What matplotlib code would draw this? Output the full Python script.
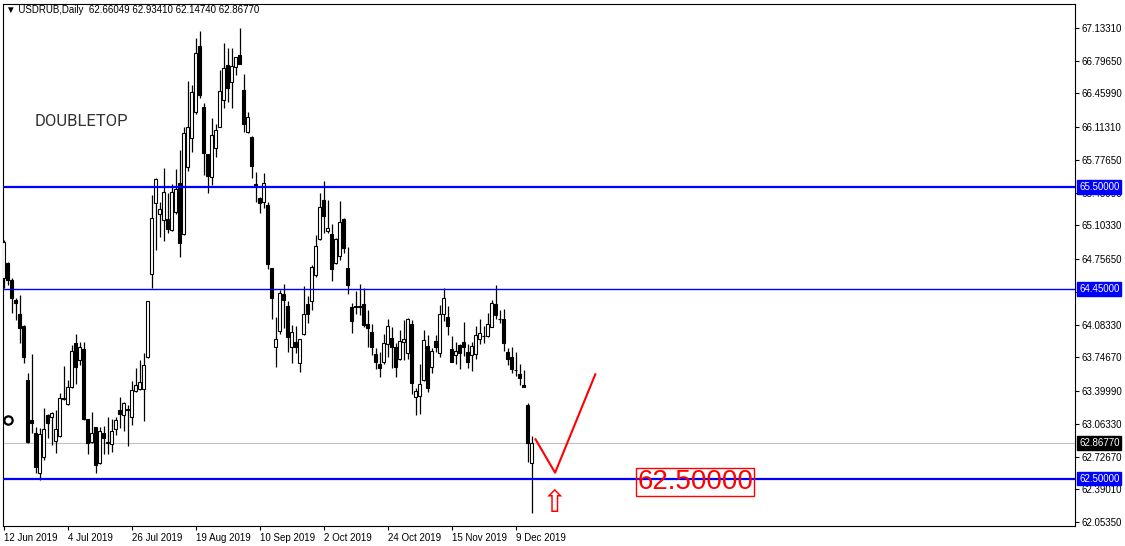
import matplotlib.pyplot as plt
import matplotlib.transforms as mtransforms

plt.rcParams['font.family'] = ['Liberation Sans', 'DejaVu Sans']

# daily OHLC, USDRUB, 12 Jun 2019 .. Dec 2019
opens = [64.56, 64.72, 64.54, 64.34, 64.19, 64.07, 63.51, 63.10, 62.97, 62.56,
         62.72, 63.15, 63.13, 62.89, 62.94, 63.33, 63.27, 63.44, 63.89, 63.72,
         63.83, 63.11, 62.88, 63.03, 62.66, 62.97, 62.88, 62.86, 63.01, 63.20,
         63.15, 63.22, 63.13, 63.40, 63.42, 63.42, 63.75, 64.60, 65.33, 65.22,
         65.16, 65.17, 65.06, 65.24, 65.54, 65.01, 65.70, 66.00, 66.27, 66.95,
         66.32, 65.84, 65.60, 65.90, 66.12, 66.39, 66.75, 66.58, 66.73, 66.86,
         66.50, 66.06, 66.01, 65.53, 65.39, 65.34, 65.31, 64.67, 63.85, 64.02,
         64.40, 64.27, 63.85, 63.90, 63.69, 63.99, 64.30, 64.33, 64.59, 64.96,
         65.36, 65.05, 65.01, 64.72, 64.79, 65.17, 64.67, 64.26, 64.27, 64.27,
         64.30, 64.09, 64.01, 63.78, 63.68, 63.70, 63.88, 63.95, 63.85, 63.73,
         63.90, 63.79, 64.09, 63.34, 63.35, 63.51, 63.86, 63.65, 63.91, 63.79,
         64.19, 64.16, 63.83, 63.77, 63.87, 63.90, 63.80, 63.77, 63.78, 63.94,
         63.97, 63.97, 64.06, 64.30, 64.14, 64.14, 63.80, 63.75, 63.62, 63.57,
         63.465, 63.26, 62.66049]
highs = [64.95, 64.73, 64.56, 64.36, 64.39, 64.08, 63.59, 63.78, 63.03, 63.02,
         63.23, 63.16, 63.18, 63.21, 63.38, 63.66, 63.51, 63.87, 63.99, 63.90,
         63.90, 63.11, 63.18, 63.03, 63.03, 63.04, 63.13, 63.11, 63.13, 63.34,
         63.29, 63.26, 63.50, 63.64, 63.72, 63.79, 64.33, 65.42, 65.59, 65.34,
         65.69, 65.44, 65.53, 65.68, 65.88, 66.11, 66.59, 66.55, 67.03, 67.10,
         66.36, 65.84, 66.21, 66.15, 66.70, 66.98, 66.93, 66.93, 66.83, 67.13,
         66.66, 66.27, 66.02, 65.65, 65.40, 65.64, 65.34, 64.67, 64.16, 64.44,
         64.50, 64.33, 64.08, 64.07, 63.94, 64.48, 64.38, 64.70, 65.00, 65.44,
         65.56, 65.36, 65.12, 64.97, 65.35, 65.18, 64.88, 64.31, 64.43, 64.50,
         64.46, 64.23, 64.09, 63.84, 63.80, 63.99, 64.14, 64.06, 63.89, 64.03,
         64.13, 64.15, 64.13, 63.43, 63.68, 64.03, 63.98, 63.84, 63.98, 64.28,
         64.46, 64.27, 63.97, 63.90, 63.88, 64.11, 63.88, 63.90, 64.07, 64.14,
         64.07, 64.20, 64.34, 64.49, 64.23, 64.24, 63.84, 63.85, 63.80, 63.68,
         63.62, 63.28, 62.93410]
lows = [64.46, 64.49, 64.20, 64.13, 63.89, 63.69, 62.87, 62.97, 62.56, 62.48,
        62.69, 62.92, 62.84, 62.76, 62.93, 63.31, 63.26, 63.43, 63.47, 63.67,
        63.10, 62.75, 62.87, 62.56, 62.65, 62.75, 62.75, 62.77, 62.95, 63.02,
        62.99, 62.83, 63.05, 63.39, 63.41, 63.09, 63.74, 64.46, 64.85, 64.98,
        64.94, 65.03, 65.05, 65.22, 64.78, 65.00, 65.66, 65.86, 66.25, 66.41,
        65.62, 65.44, 65.52, 65.81, 66.11, 66.31, 66.37, 66.31, 66.65, 66.76,
        66.06, 66.05, 65.59, 65.34, 65.23, 65.28, 64.66, 64.14, 63.65, 63.99,
        64.05, 63.80, 63.69, 63.79, 63.60, 63.98, 64.10, 64.23, 64.57, 64.95,
        65.02, 65.02, 64.53, 64.71, 64.75, 64.82, 64.40, 64.00, 64.19, 64.18,
        64.06, 63.85, 63.77, 63.63, 63.54, 63.68, 63.75, 63.64, 63.54, 63.72,
        63.72, 63.73, 63.37, 63.15, 63.16, 63.50, 63.39, 63.59, 63.80, 63.75,
        64.12, 63.98, 63.70, 63.68, 63.63, 63.76, 63.64, 63.61, 63.73, 63.88,
        63.89, 63.96, 64.06, 64.14, 64.10, 63.81, 63.67, 63.59, 63.55, 63.46,
        63.45, 62.67, 62.14740]
closes = [64.93, 64.54, 64.36, 64.31, 64.05, 63.75, 62.88, 63.07, 62.62, 62.96,
          63.01, 63.07, 63.17, 63.01, 63.33, 63.32, 63.44, 63.81, 63.65, 63.85,
          63.11, 62.87, 62.97, 62.64, 62.99, 62.92, 62.87, 62.99, 63.10, 63.16,
          63.28, 63.21, 63.41, 63.46, 63.49, 63.67, 64.33, 65.18, 65.58, 65.27,
          65.45, 65.07, 65.45, 65.48, 64.92, 66.05, 66.11, 66.48, 66.88, 66.44,
          65.85, 65.61, 66.03, 66.08, 66.49, 66.72, 66.52, 66.74, 66.83, 66.76,
          66.15, 66.22, 65.71, 65.51, 65.33, 65.54, 64.71, 64.36, 63.94, 64.41,
          64.34, 63.96, 64.01, 63.85, 63.94, 64.19, 64.19, 64.68, 64.89, 65.29,
          65.20, 65.08, 64.66, 64.96, 65.14, 64.87, 64.49, 64.12, 64.26, 64.26,
          64.08, 64.05, 63.85, 63.70, 63.64, 63.89, 64.07, 63.85, 63.65, 63.91,
          63.94, 64.14, 63.48, 63.40, 63.47, 63.92, 63.43, 63.81, 63.85, 64.19,
          64.36, 64.07, 63.70, 63.81, 63.79, 63.85, 63.70, 63.86, 63.98, 64.00,
          63.965, 64.09, 64.31, 64.18, 64.14, 63.89, 63.73, 63.63, 63.62, 63.53,
          63.445, 62.87, 62.86770]

date_labels = ['12 Jun 2019', '4 Jul 2019', '26 Jul 2019', '19 Aug 2019', '10 Sep 2019',
               '2 Oct 2019', '24 Oct 2019', '15 Nov 2019', '9 Dec 2019']
date_idx = [0, 16, 32, 48, 64, 80, 96, 112, 128]

ytick_vals = [67.13310, 66.79650, 66.45990, 66.11310, 65.77650, 65.43990, 65.10330, 64.75650,
              64.41990, 64.08330, 63.74670, 63.39990, 63.06330, 62.72670, 62.39010, 62.05350]
ytick_labels = ['%.5f' % v for v in ytick_vals]

levels = [65.5, 64.45, 62.5]
level_widths = [1.6, 1.0, 1.6]
last_price = 62.8677

# hand drawn "V" and marks
v_x = [133.0, 137.9, 147.95]
v_y = [62.904, 62.560, 63.572]

fig = plt.figure(figsize=(11.25, 5.46), dpi=100)
ax = fig.add_axes([3/1125, 20/546, 1072/1125, 522/546])

x = list(range(len(opens)))
bottoms = [min(o, c) for o, c in zip(opens, closes)]
heights = [abs(c - o) for o, c in zip(opens, closes)]
colors = ['white' if c >= o else 'black' for o, c in zip(opens, closes)]

ax.axhline(last_price, color='#c0c0c0', lw=0.8, zorder=1)
ax.vlines(x, lows, highs, color='black', lw=0.9, zorder=2)
ax.bar(x, heights, bottom=bottoms, width=0.55, color=colors, edgecolor='black',
       linewidth=0.8, zorder=3)

for lv, lw in zip(levels, level_widths):
    ax.axhline(lv, color='#0000ff', lw=lw, zorder=4)

ax.plot(v_x, v_y, color='red', lw=1.5, zorder=5)

ax.set_xlim(-0.125, 267.875)
ax.set_ylim(62.012, 67.380)

ax.yaxis.tick_right()
ax.set_yticks(ytick_vals)
ax.set_yticklabels(ytick_labels, fontsize=7)
ax.tick_params(axis='y', direction='out', length=3, pad=2, width=0.8)
ax.set_xticks(date_idx)
ax.set_xticklabels(date_labels, fontsize=7, ha='left')
ax.tick_params(axis='x', direction='out', length=3, pad=2, width=0.8)
for s in ax.spines.values():
    s.set_linewidth(0.8)

# price boxes on the right scale
trans = mtransforms.blended_transform_factory(ax.transAxes, ax.transData)
for lv in levels:
    ax.text(1 + 4/1072, lv, '%.5f' % lv, transform=trans, ha='left', va='center',
            fontsize=7, color='white', clip_on=False, zorder=10,
            bbox=dict(boxstyle='square,pad=0.2', fc='#0000ff', ec='#0000ff'))
ax.text(1 + 4/1072, last_price, '%.5f' % last_price, transform=trans, ha='left', va='center',
        fontsize=7, color='white', clip_on=False, zorder=10,
        bbox=dict(boxstyle='square,pad=0.2', fc='black', ec='black'))

fig.text(6/1125, 1 - 10/546, '▼ USDRUB,Daily  62.66049 62.93410 62.14740 62.86770',
         fontsize=7, va='center', ha='left')

ax.text(7.9, 66.125, 'DOUBLETOP', fontsize=12, family='Roboto', color='#333333',
        ha='left', va='baseline')

ax.plot([1.125], [63.102], marker='o', ms=6, mfc='white', mec='black', mew=1.6,
        zorder=6, clip_on=False)

ax.text(137.75, 62.245, '⇧', fontsize=22, color='red', family='DejaVu Sans',
        ha='center', va='center', zorder=6)

ax.text(172.9, 62.393, '62.50000', fontsize=20, color='red', ha='center', va='baseline',
        zorder=7, bbox=dict(boxstyle='square,pad=0.05', fc='none', ec='red', lw=1))

fig.savefig('out.png', dpi=100)
